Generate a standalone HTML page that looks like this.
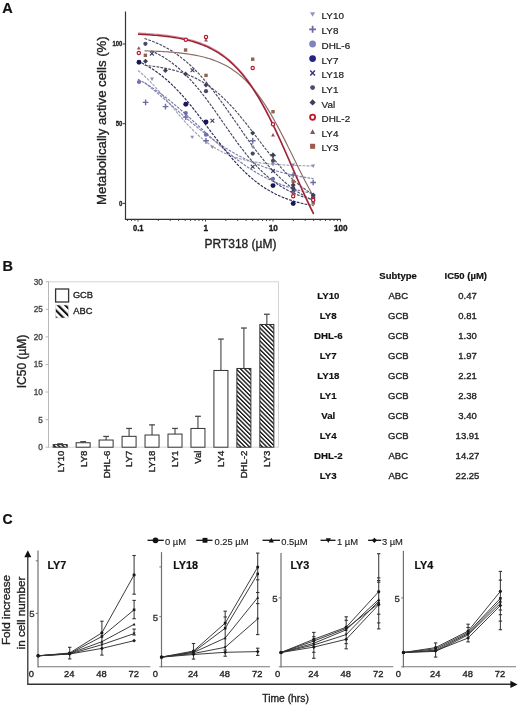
<!DOCTYPE html>
<html><head><meta charset="utf-8"><style>
html,body{margin:0;padding:0;background:#fff;}
svg{display:block;font-family:"Liberation Sans",sans-serif;will-change:transform;}
</style></head><body>
<svg width="520" height="707" viewBox="0 0 520 707">
<rect width="520" height="707" fill="#fff"/>
<text x="2.20" y="12.60" font-size="14.5" text-anchor="start" font-weight="bold" stroke="#111" stroke-width="0.2" fill="#111">A</text>
<line x1="125.50" y1="11.50" x2="125.50" y2="219.80" stroke="#333" stroke-width="1.2"/>
<line x1="124.90" y1="219.30" x2="340.80" y2="219.30" stroke="#333" stroke-width="1.2"/>
<line x1="122.60" y1="44.00" x2="125.50" y2="44.00" stroke="#333" stroke-width="1"/>
<text x="122.40" y="46.40" font-size="7.4" text-anchor="end" font-weight="bold" stroke="#1a1a1a" stroke-width="0.3" fill="#1a1a1a" textLength="9.8" lengthAdjust="spacingAndGlyphs">100</text>
<line x1="122.60" y1="123.70" x2="125.50" y2="123.70" stroke="#333" stroke-width="1"/>
<text x="122.40" y="126.10" font-size="7.4" text-anchor="end" font-weight="bold" stroke="#1a1a1a" stroke-width="0.3" fill="#1a1a1a" textLength="6.6" lengthAdjust="spacingAndGlyphs">50</text>
<line x1="122.60" y1="203.40" x2="125.50" y2="203.40" stroke="#333" stroke-width="1"/>
<text x="122.40" y="205.80" font-size="7.4" text-anchor="end" font-weight="bold" stroke="#1a1a1a" stroke-width="0.3" fill="#1a1a1a" textLength="3.4" lengthAdjust="spacingAndGlyphs">0</text>
<line x1="138.00" y1="219.30" x2="138.00" y2="221.60" stroke="#333" stroke-width="0.9"/>
<line x1="158.32" y1="219.30" x2="158.32" y2="221.00" stroke="#333" stroke-width="0.9"/>
<line x1="170.21" y1="219.30" x2="170.21" y2="221.00" stroke="#333" stroke-width="0.9"/>
<line x1="178.64" y1="219.30" x2="178.64" y2="221.00" stroke="#333" stroke-width="0.9"/>
<line x1="185.18" y1="219.30" x2="185.18" y2="221.00" stroke="#333" stroke-width="0.9"/>
<line x1="190.53" y1="219.30" x2="190.53" y2="221.00" stroke="#333" stroke-width="0.9"/>
<line x1="195.04" y1="219.30" x2="195.04" y2="221.00" stroke="#333" stroke-width="0.9"/>
<line x1="198.96" y1="219.30" x2="198.96" y2="221.00" stroke="#333" stroke-width="0.9"/>
<line x1="202.41" y1="219.30" x2="202.41" y2="221.00" stroke="#333" stroke-width="0.9"/>
<line x1="205.50" y1="219.30" x2="205.50" y2="221.60" stroke="#333" stroke-width="0.9"/>
<line x1="225.82" y1="219.30" x2="225.82" y2="221.00" stroke="#333" stroke-width="0.9"/>
<line x1="237.71" y1="219.30" x2="237.71" y2="221.00" stroke="#333" stroke-width="0.9"/>
<line x1="246.14" y1="219.30" x2="246.14" y2="221.00" stroke="#333" stroke-width="0.9"/>
<line x1="252.68" y1="219.30" x2="252.68" y2="221.00" stroke="#333" stroke-width="0.9"/>
<line x1="258.03" y1="219.30" x2="258.03" y2="221.00" stroke="#333" stroke-width="0.9"/>
<line x1="262.54" y1="219.30" x2="262.54" y2="221.00" stroke="#333" stroke-width="0.9"/>
<line x1="266.46" y1="219.30" x2="266.46" y2="221.00" stroke="#333" stroke-width="0.9"/>
<line x1="269.91" y1="219.30" x2="269.91" y2="221.00" stroke="#333" stroke-width="0.9"/>
<line x1="273.00" y1="219.30" x2="273.00" y2="221.60" stroke="#333" stroke-width="0.9"/>
<line x1="293.32" y1="219.30" x2="293.32" y2="221.00" stroke="#333" stroke-width="0.9"/>
<line x1="305.21" y1="219.30" x2="305.21" y2="221.00" stroke="#333" stroke-width="0.9"/>
<line x1="313.64" y1="219.30" x2="313.64" y2="221.00" stroke="#333" stroke-width="0.9"/>
<line x1="320.18" y1="219.30" x2="320.18" y2="221.00" stroke="#333" stroke-width="0.9"/>
<line x1="325.53" y1="219.30" x2="325.53" y2="221.00" stroke="#333" stroke-width="0.9"/>
<line x1="330.04" y1="219.30" x2="330.04" y2="221.00" stroke="#333" stroke-width="0.9"/>
<line x1="333.96" y1="219.30" x2="333.96" y2="221.00" stroke="#333" stroke-width="0.9"/>
<line x1="337.41" y1="219.30" x2="337.41" y2="221.00" stroke="#333" stroke-width="0.9"/>
<line x1="340.50" y1="219.30" x2="340.50" y2="221.60" stroke="#333" stroke-width="0.9"/>
<line x1="127.54" y1="219.30" x2="127.54" y2="221.00" stroke="#333" stroke-width="0.9"/>
<line x1="131.46" y1="219.30" x2="131.46" y2="221.00" stroke="#333" stroke-width="0.9"/>
<line x1="134.91" y1="219.30" x2="134.91" y2="221.00" stroke="#333" stroke-width="0.9"/>
<text x="138.30" y="231.00" font-size="8.8" text-anchor="middle" font-weight="bold" stroke="#1a1a1a" stroke-width="0.35" fill="#1a1a1a" textLength="10.6" lengthAdjust="spacingAndGlyphs">0.1</text>
<text x="205.80" y="231.00" font-size="8.8" text-anchor="middle" font-weight="bold" stroke="#1a1a1a" stroke-width="0.35" fill="#1a1a1a" textLength="4.6" lengthAdjust="spacingAndGlyphs">1</text>
<text x="273.30" y="231.00" font-size="8.8" text-anchor="middle" font-weight="bold" stroke="#1a1a1a" stroke-width="0.35" fill="#1a1a1a" textLength="9.2" lengthAdjust="spacingAndGlyphs">10</text>
<text x="340.80" y="231.00" font-size="8.8" text-anchor="middle" font-weight="bold" stroke="#1a1a1a" stroke-width="0.35" fill="#1a1a1a" textLength="13.6" lengthAdjust="spacingAndGlyphs">100</text>
<text x="240.50" y="247.50" font-size="12" text-anchor="middle" stroke="#222" stroke-width="0.34" fill="#222">PRT318 (µM)</text>
<text x="106.00" y="120.60" font-size="13.2" text-anchor="middle" stroke="#222" stroke-width="0.34" fill="#222" transform="rotate(-90 106.0 120.6)">Metabolically active cells (%)</text>
<path d="M310.10,12.30L315.10,12.30L312.60,16.80Z" stroke="none" stroke-width="1" fill="#9494b8"/>
<text x="321.60" y="19.40" font-size="9.9" text-anchor="start" stroke="#222" stroke-width="0.22" fill="#222">LY10</text>
<path d="M309.15,29.30H316.05M312.60,25.85V32.75" stroke="#6a6aa4" stroke-width="1.7249999999999999" fill="none"/>
<text x="321.60" y="34.40" font-size="9.9" text-anchor="start" stroke="#222" stroke-width="0.22" fill="#222">LY8</text>
<circle cx="312.60" cy="44.00" r="3.38" fill="#8282bc"/>
<text x="321.60" y="49.10" font-size="9.9" text-anchor="start" stroke="#222" stroke-width="0.22" fill="#222">DHL-6</text>
<circle cx="312.60" cy="58.60" r="3.38" fill="#242488"/>
<text x="321.60" y="63.70" font-size="9.9" text-anchor="start" stroke="#222" stroke-width="0.22" fill="#222">LY7</text>
<path d="M310.20,70.60L315.00,75.40M310.20,75.40L315.00,70.60" stroke="#35356c" stroke-width="1.38" fill="none"/>
<text x="321.60" y="78.10" font-size="9.9" text-anchor="start" stroke="#222" stroke-width="0.22" fill="#222">LY18</text>
<circle cx="312.60" cy="87.60" r="2.42" fill="#4a4a6c"/>
<text x="321.60" y="92.70" font-size="9.9" text-anchor="start" stroke="#222" stroke-width="0.22" fill="#222">LY1</text>
<path d="M312.60,99.28L315.72,102.40L312.60,105.52L309.48,102.40Z" stroke="none" stroke-width="1" fill="#3e3e5c"/>
<text x="321.60" y="107.50" font-size="9.9" text-anchor="start" stroke="#222" stroke-width="0.22" fill="#222">Val</text>
<circle cx="312.60" cy="117.20" r="2.54" fill="#fff" stroke="#c2182e" stroke-width="1.81"/>
<text x="321.60" y="122.30" font-size="9.9" text-anchor="start" stroke="#222" stroke-width="0.22" fill="#222">DHL-2</text>
<path d="M310.00,133.88L315.20,133.88L312.60,129.20Z" stroke="none" stroke-width="1" fill="#8c5060"/>
<text x="321.60" y="136.90" font-size="9.9" text-anchor="start" stroke="#222" stroke-width="0.22" fill="#222">LY4</text>
<rect x="310.08" y="143.78" width="5.04" height="5.04" fill="#a05a4a" stroke="none" stroke-width="1"/>
<text x="321.60" y="151.40" font-size="9.9" text-anchor="start" stroke="#222" stroke-width="0.22" fill="#222">LY3</text>
<g clip-path="url(#clipA)">
<path d="M138.00,70.47 L140.22,72.32 L142.45,74.26 L144.67,76.29 L146.89,78.40 L149.12,80.59 L151.34,82.87 L153.56,85.21 L155.79,87.63 L158.01,90.10 L160.23,92.63 L162.46,95.21 L164.68,97.82 L166.90,100.46 L169.13,103.12 L171.35,105.78 L173.57,108.45 L175.80,111.10 L178.02,113.73 L180.24,116.32 L182.47,118.88 L184.69,121.39 L186.91,123.84 L189.14,126.22 L191.36,128.54 L193.58,130.78 L195.81,132.94 L198.03,135.01 L200.25,137.00 L202.48,138.91 L204.70,140.72 L206.92,142.44 L209.14,144.08 L211.37,145.62 L213.59,147.08 L215.81,148.46 L218.04,149.75 L220.26,150.97 L222.48,152.10 L224.71,153.17 L226.93,154.16 L229.15,155.09 L231.38,155.95 L233.60,156.76 L235.82,157.50 L238.05,158.19 L240.27,158.84 L242.49,159.43 L244.72,159.98 L246.94,160.49 L249.16,160.96 L251.39,161.40 L253.61,161.80 L255.83,162.17 L258.06,162.51 L260.28,162.83 L262.50,163.12 L264.73,163.38 L266.95,163.63 L269.17,163.86 L271.40,164.06 L273.62,164.26 L275.84,164.43 L278.07,164.59 L280.29,164.74 L282.51,164.88 L284.74,165.00 L286.96,165.12 L289.18,165.22 L291.41,165.32 L293.63,165.41 L295.85,165.49 L298.08,165.57 L300.30,165.64 L302.52,165.70 L304.75,165.76 L306.97,165.81 L309.19,165.86 L311.42,165.90 L313.64,165.94" stroke="#a0a0b8" stroke-width="1.15" fill="none" stroke-dasharray="2.8,1.2"/>
<path d="M138.00,79.27 L140.22,80.48 L142.45,81.73 L144.67,83.02 L146.89,84.36 L149.12,85.74 L151.34,87.16 L153.56,88.63 L155.79,90.15 L158.01,91.70 L160.23,93.30 L162.46,94.94 L164.68,96.62 L166.90,98.34 L169.13,100.10 L171.35,101.90 L173.57,103.73 L175.80,105.60 L178.02,107.49 L180.24,109.42 L182.47,111.37 L184.69,113.34 L186.91,115.34 L189.14,117.36 L191.36,119.39 L193.58,121.43 L195.81,123.48 L198.03,125.54 L200.25,127.61 L202.48,129.67 L204.70,131.73 L206.92,133.79 L209.14,135.83 L211.37,137.87 L213.59,139.88 L215.81,141.88 L218.04,143.86 L220.26,145.81 L222.48,147.74 L224.71,149.64 L226.93,151.51 L229.15,153.35 L231.38,155.15 L233.60,156.91 L235.82,158.64 L238.05,160.32 L240.27,161.97 L242.49,163.57 L244.72,165.13 L246.94,166.65 L249.16,168.13 L251.39,169.56 L253.61,170.95 L255.83,172.29 L258.06,173.59 L260.28,174.84 L262.50,176.05 L264.73,177.22 L266.95,178.35 L269.17,179.43 L271.40,180.47 L273.62,181.47 L275.84,182.44 L278.07,183.36 L280.29,184.25 L282.51,185.10 L284.74,185.91 L286.96,186.69 L289.18,187.43 L291.41,188.15 L293.63,188.83 L295.85,189.48 L298.08,190.10 L300.30,190.69 L302.52,191.26 L304.75,191.80 L306.97,192.31 L309.19,192.80 L311.42,193.27 L313.64,193.71" stroke="#7878a8" stroke-width="1.15" fill="none" stroke-dasharray="2.8,1.2"/>
<path d="M144.54,82.52 L146.68,84.23 L148.82,85.96 L150.96,87.71 L153.10,89.49 L155.24,91.28 L157.38,93.08 L159.52,94.91 L161.67,96.74 L163.81,98.59 L165.95,100.44 L168.09,102.31 L170.23,104.17 L172.37,106.04 L174.51,107.92 L176.65,109.79 L178.79,111.65 L180.93,113.51 L183.07,115.37 L185.21,117.21 L187.35,119.04 L189.49,120.86 L191.63,122.66 L193.77,124.45 L195.91,126.21 L198.05,127.96 L200.19,129.68 L202.33,131.38 L204.47,133.06 L206.62,134.70 L208.76,136.32 L210.90,137.92 L213.04,139.48 L215.18,141.01 L217.32,142.51 L219.46,143.97 L221.60,145.41 L223.74,146.81 L225.88,148.18 L228.02,149.51 L230.16,150.81 L232.30,152.08 L234.44,153.31 L236.58,154.51 L238.72,155.67 L240.86,156.80 L243.00,157.89 L245.14,158.95 L247.28,159.98 L249.42,160.98 L251.57,161.94 L253.71,162.88 L255.85,163.78 L257.99,164.65 L260.13,165.49 L262.27,166.30 L264.41,167.08 L266.55,167.84 L268.69,168.56 L270.83,169.26 L272.97,169.94 L275.11,170.59 L277.25,171.21 L279.39,171.81 L281.53,172.39 L283.67,172.94 L285.81,173.48 L287.95,173.99 L290.09,174.48 L292.23,174.95 L294.37,175.40 L296.52,175.84 L298.66,176.25 L300.80,176.65 L302.94,177.04 L305.08,177.40 L307.22,177.75 L309.36,178.09 L311.50,178.41 L313.64,178.72" stroke="#8484b0" stroke-width="1.15" fill="none" stroke-dasharray="2.8,1.2"/>
<path d="M138.00,61.20 L140.22,62.23 L142.45,63.33 L144.67,64.49 L146.89,65.71 L149.12,67.00 L151.34,68.37 L153.56,69.81 L155.79,71.32 L158.01,72.91 L160.23,74.57 L162.46,76.32 L164.68,78.15 L166.90,80.05 L169.13,82.04 L171.35,84.11 L173.57,86.27 L175.80,88.50 L178.02,90.81 L180.24,93.20 L182.47,95.66 L184.69,98.19 L186.91,100.79 L189.14,103.45 L191.36,106.17 L193.58,108.95 L195.81,111.77 L198.03,114.63 L200.25,117.53 L202.48,120.45 L204.70,123.39 L206.92,126.35 L209.14,129.31 L211.37,132.27 L213.59,135.22 L215.81,138.15 L218.04,141.06 L220.26,143.94 L222.48,146.78 L224.71,149.57 L226.93,152.31 L229.15,155.00 L231.38,157.62 L233.60,160.18 L235.82,162.67 L238.05,165.09 L240.27,167.43 L242.49,169.69 L244.72,171.88 L246.94,173.98 L249.16,176.00 L251.39,177.94 L253.61,179.80 L255.83,181.58 L258.06,183.28 L260.28,184.90 L262.50,186.44 L264.73,187.90 L266.95,189.30 L269.17,190.62 L271.40,191.87 L273.62,193.05 L275.84,194.17 L278.07,195.23 L280.29,196.23 L282.51,197.17 L284.74,198.06 L286.96,198.90 L289.18,199.68 L291.41,200.42 L293.63,201.11 L295.85,201.77 L298.08,202.38 L300.30,202.95 L302.52,203.49 L304.75,203.99 L306.97,204.46 L309.19,204.91 L311.42,205.32 L313.64,205.71" stroke="#2a2a54" stroke-width="1.15" fill="none" stroke-dasharray="2.8,1.2"/>
<path d="M144.54,65.29 L146.68,65.51 L148.82,65.75 L150.96,66.01 L153.10,66.28 L155.24,66.58 L157.38,66.89 L159.52,67.23 L161.67,67.60 L163.81,67.99 L165.95,68.41 L168.09,68.86 L170.23,69.34 L172.37,69.85 L174.51,70.40 L176.65,70.99 L178.79,71.62 L180.93,72.29 L183.07,73.00 L185.21,73.76 L187.35,74.57 L189.49,75.44 L191.63,76.36 L193.77,77.33 L195.91,78.37 L198.05,79.47 L200.19,80.63 L202.33,81.87 L204.47,83.17 L206.62,84.54 L208.76,85.99 L210.90,87.51 L213.04,89.12 L215.18,90.80 L217.32,92.56 L219.46,94.40 L221.60,96.32 L223.74,98.32 L225.88,100.41 L228.02,102.57 L230.16,104.80 L232.30,107.11 L234.44,109.49 L236.58,111.94 L238.72,114.46 L240.86,117.03 L243.00,119.65 L245.14,122.32 L247.28,125.03 L249.42,127.78 L251.57,130.55 L253.71,133.35 L255.85,136.15 L257.99,138.96 L260.13,141.77 L262.27,144.56 L264.41,147.34 L266.55,150.09 L268.69,152.81 L270.83,155.48 L272.97,158.11 L275.11,160.69 L277.25,163.21 L279.39,165.66 L281.53,168.05 L283.67,170.37 L285.81,172.62 L287.95,174.79 L290.09,176.88 L292.23,178.89 L294.37,180.82 L296.52,182.67 L298.66,184.44 L300.80,186.13 L302.94,187.75 L305.08,189.28 L307.22,190.74 L309.36,192.12 L311.50,193.43 L313.64,194.67" stroke="#505064" stroke-width="1.15" fill="none" stroke-dasharray="2.8,1.2"/>
<path d="M151.04,50.76 L153.09,51.67 L155.15,52.64 L157.21,53.67 L159.27,54.75 L161.33,55.90 L163.39,57.11 L165.44,58.38 L167.50,59.72 L169.56,61.14 L171.62,62.62 L173.68,64.18 L175.74,65.81 L177.79,67.52 L179.85,69.30 L181.91,71.17 L183.97,73.11 L186.03,75.13 L188.08,77.23 L190.14,79.41 L192.20,81.67 L194.26,84.00 L196.32,86.40 L198.38,88.88 L200.43,91.42 L202.49,94.03 L204.55,96.69 L206.61,99.42 L208.67,102.19 L210.73,105.01 L212.78,107.87 L214.84,110.76 L216.90,113.68 L218.96,116.62 L221.02,119.57 L223.08,122.53 L225.13,125.48 L227.19,128.43 L229.25,131.37 L231.31,134.28 L233.37,137.16 L235.42,140.01 L237.48,142.82 L239.54,145.58 L241.60,148.29 L243.66,150.94 L245.72,153.54 L247.77,156.06 L249.83,158.52 L251.89,160.91 L253.95,163.22 L256.01,165.45 L258.07,167.61 L260.12,169.69 L262.18,171.70 L264.24,173.62 L266.30,175.46 L268.36,177.23 L270.42,178.92 L272.47,180.53 L274.53,182.07 L276.59,183.54 L278.65,184.93 L280.71,186.25 L282.77,187.51 L284.82,188.70 L286.88,189.83 L288.94,190.90 L291.00,191.92 L293.06,192.87 L295.11,193.77 L297.17,194.63 L299.23,195.43 L301.29,196.18 L303.35,196.90 L305.41,197.57 L307.46,198.20 L309.52,198.79 L311.58,199.35 L313.64,199.87" stroke="#464662" stroke-width="1.15" fill="none" stroke-dasharray="2.8,1.2"/>
<path d="M144.54,38.54 L146.68,39.23 L148.82,39.96 L150.96,40.74 L153.10,41.56 L155.24,42.43 L157.38,43.35 L159.52,44.32 L161.67,45.35 L163.81,46.43 L165.95,47.57 L168.09,48.77 L170.23,50.03 L172.37,51.36 L174.51,52.75 L176.65,54.22 L178.79,55.75 L180.93,57.35 L183.07,59.03 L185.21,60.79 L187.35,62.62 L189.49,64.53 L191.63,66.51 L193.77,68.58 L195.91,70.72 L198.05,72.94 L200.19,75.23 L202.33,77.61 L204.47,80.05 L206.62,82.57 L208.76,85.16 L210.90,87.82 L213.04,90.54 L215.18,93.32 L217.32,96.15 L219.46,99.04 L221.60,101.98 L223.74,104.95 L225.88,107.96 L228.02,111.00 L230.16,114.07 L232.30,117.15 L234.44,120.24 L236.58,123.33 L238.72,126.42 L240.86,129.51 L243.00,132.57 L245.14,135.62 L247.28,138.63 L249.42,141.61 L251.57,144.55 L253.71,147.45 L255.85,150.29 L257.99,153.08 L260.13,155.81 L262.27,158.47 L264.41,161.07 L266.55,163.60 L268.69,166.06 L270.83,168.44 L272.97,170.75 L275.11,172.98 L277.25,175.13 L279.39,177.20 L281.53,179.20 L283.67,181.12 L285.81,182.96 L287.95,184.72 L290.09,186.41 L292.23,188.03 L294.37,189.57 L296.52,191.05 L298.66,192.45 L300.80,193.78 L302.94,195.06 L305.08,196.26 L307.22,197.41 L309.36,198.50 L311.50,199.53 L313.64,200.51" stroke="#4a4a62" stroke-width="1.15" fill="none" stroke-dasharray="2.8,1.2"/>
<path d="M138.00,33.11 L140.22,33.22 L142.45,33.34 L144.67,33.46 L146.89,33.60 L149.12,33.74 L151.34,33.90 L153.56,34.07 L155.79,34.25 L158.01,34.45 L160.23,34.66 L162.46,34.89 L164.68,35.14 L166.90,35.40 L169.13,35.69 L171.35,35.99 L173.57,36.33 L175.80,36.68 L178.02,37.06 L180.24,37.48 L182.47,37.92 L184.69,38.40 L186.91,38.91 L189.14,39.46 L191.36,40.05 L193.58,40.69 L195.81,41.37 L198.03,42.11 L200.25,42.89 L202.48,43.73 L204.70,44.64 L206.92,45.61 L209.14,46.64 L211.37,47.75 L213.59,48.94 L215.81,50.20 L218.04,51.56 L220.26,53.00 L222.48,54.54 L224.71,56.18 L226.93,57.92 L229.15,59.78 L231.38,61.75 L233.60,63.84 L235.82,66.05 L238.05,68.40 L240.27,70.87 L242.49,73.49 L244.72,76.24 L246.94,79.14 L249.16,82.18 L251.39,85.37 L253.61,88.71 L255.83,92.19 L258.06,95.83 L260.28,99.61 L262.50,103.54 L264.73,107.60 L266.95,111.80 L269.17,116.14 L271.40,120.59 L273.62,125.16 L275.84,129.83 L278.07,134.60 L280.29,139.46 L282.51,144.38 L284.74,149.36 L286.96,154.39 L289.18,159.45 L291.41,164.52 L293.63,169.60 L295.85,174.66 L298.08,179.69 L300.30,184.68 L302.52,189.62 L304.75,194.49 L306.97,199.27 L309.19,203.97 L311.42,208.55 L313.64,213.03" stroke="#d88894" stroke-width="1.2" fill="none"/>
<path d="M144.54,50.85 L146.68,50.91 L148.82,50.98 L150.96,51.06 L153.10,51.14 L155.24,51.23 L157.38,51.32 L159.52,51.43 L161.67,51.54 L163.81,51.67 L165.95,51.80 L168.09,51.94 L170.23,52.10 L172.37,52.27 L174.51,52.45 L176.65,52.65 L178.79,52.86 L180.93,53.09 L183.07,53.34 L185.21,53.61 L187.35,53.91 L189.49,54.22 L191.63,54.56 L193.77,54.93 L195.91,55.33 L198.05,55.76 L200.19,56.23 L202.33,56.73 L204.47,57.27 L206.62,57.86 L208.76,58.49 L210.90,59.16 L213.04,59.89 L215.18,60.68 L217.32,61.52 L219.46,62.43 L221.60,63.41 L223.74,64.46 L225.88,65.58 L228.02,66.78 L230.16,68.07 L232.30,69.45 L234.44,70.93 L236.58,72.50 L238.72,74.17 L240.86,75.96 L243.00,77.86 L245.14,79.87 L247.28,82.01 L249.42,84.27 L251.57,86.66 L253.71,89.18 L255.85,91.84 L257.99,94.63 L260.13,97.55 L262.27,100.61 L264.41,103.80 L266.55,107.13 L268.69,110.59 L270.83,114.17 L272.97,117.87 L275.11,121.68 L277.25,125.60 L279.39,129.61 L281.53,133.71 L283.67,137.88 L285.81,142.12 L287.95,146.41 L290.09,150.74 L292.23,155.09 L294.37,159.45 L296.52,163.80 L298.66,168.14 L300.80,172.44 L302.94,176.70 L305.08,180.89 L307.22,185.02 L309.36,189.06 L311.50,193.01 L313.64,196.86" stroke="#8e6c68" stroke-width="1.15" fill="none"/>
<path d="M138.00,34.21 L140.22,34.32 L142.45,34.44 L144.67,34.56 L146.89,34.70 L149.12,34.84 L151.34,35.00 L153.56,35.17 L155.79,35.35 L158.01,35.55 L160.23,35.76 L162.46,35.99 L164.68,36.24 L166.90,36.50 L169.13,36.79 L171.35,37.09 L173.57,37.43 L175.80,37.78 L178.02,38.16 L180.24,38.58 L182.47,39.02 L184.69,39.50 L186.91,40.01 L189.14,40.56 L191.36,41.15 L193.58,41.79 L195.81,42.47 L198.03,43.21 L200.25,43.99 L202.48,44.83 L204.70,45.74 L206.92,46.71 L209.14,47.74 L211.37,48.85 L213.59,50.04 L215.81,51.30 L218.04,52.66 L220.26,54.10 L222.48,55.64 L224.71,57.28 L226.93,59.02 L229.15,60.88 L231.38,62.85 L233.60,64.94 L235.82,67.15 L238.05,69.50 L240.27,71.97 L242.49,74.59 L244.72,77.34 L246.94,80.24 L249.16,83.28 L251.39,86.47 L253.61,89.81 L255.83,93.29 L258.06,96.93 L260.28,100.71 L262.50,104.64 L264.73,108.70 L266.95,112.90 L269.17,117.24 L271.40,121.69 L273.62,126.26 L275.84,130.93 L278.07,135.70 L280.29,140.56 L282.51,145.48 L284.74,150.46 L286.96,155.49 L289.18,160.55 L291.41,165.62 L293.63,170.70 L295.85,175.76 L298.08,180.79 L300.30,185.78 L302.52,190.72 L304.75,195.59 L306.97,200.37 L309.19,205.07 L311.42,209.65 L313.64,214.13" stroke="#9a2234" stroke-width="1.45" fill="none"/>
<path d="M142.75,102.40H148.45M145.60,99.55V105.25" stroke="#6c6ca4" stroke-width="1.4249999999999998" fill="none"/>
<path d="M162.65,106.60H168.35M165.50,103.75V109.45" stroke="#6c6ca4" stroke-width="1.4249999999999998" fill="none"/>
<path d="M182.95,117.10H188.65M185.80,114.25V119.95" stroke="#6c6ca4" stroke-width="1.4249999999999998" fill="none"/>
<path d="M203.15,140.80H208.85M206.00,137.95V143.65" stroke="#6c6ca4" stroke-width="1.4249999999999998" fill="none"/>
<path d="M249.85,140.80H255.55M252.70,137.95V143.65" stroke="#6c6ca4" stroke-width="1.4249999999999998" fill="none"/>
<path d="M270.15,155.50H275.85M273.00,152.65V158.35" stroke="#6c6ca4" stroke-width="1.4249999999999998" fill="none"/>
<path d="M290.35,175.00H296.05M293.20,172.15V177.85" stroke="#6c6ca4" stroke-width="1.4249999999999998" fill="none"/>
<path d="M310.35,182.50H316.05M313.20,179.65V185.35" stroke="#6c6ca4" stroke-width="1.4249999999999998" fill="none"/>
<path d="M150.10,77.58L153.90,77.58L152.00,81.00Z" stroke="none" stroke-width="1" fill="#8c8cb4"/>
<path d="M190.30,135.68L194.10,135.68L192.20,139.10Z" stroke="none" stroke-width="1" fill="#8c8cb4"/>
<path d="M210.40,145.68L214.20,145.68L212.30,149.10Z" stroke="none" stroke-width="1" fill="#8c8cb4"/>
<path d="M250.80,145.38L254.60,145.38L252.70,148.80Z" stroke="none" stroke-width="1" fill="#8c8cb4"/>
<path d="M271.10,162.98L274.90,162.98L273.00,166.40Z" stroke="none" stroke-width="1" fill="#8c8cb4"/>
<path d="M291.30,163.48L295.10,163.48L293.20,166.90Z" stroke="none" stroke-width="1" fill="#8c8cb4"/>
<path d="M311.30,164.48L315.10,164.48L313.20,167.90Z" stroke="none" stroke-width="1" fill="#8c8cb4"/>
<circle cx="139.00" cy="82.00" r="2.09" fill="#6e6eac"/>
<circle cx="185.80" cy="113.10" r="2.09" fill="#6e6eac"/>
<circle cx="206.00" cy="134.70" r="2.09" fill="#6e6eac"/>
<circle cx="273.00" cy="178.80" r="2.09" fill="#6e6eac"/>
<circle cx="293.20" cy="192.00" r="2.09" fill="#6e6eac"/>
<circle cx="313.20" cy="196.00" r="2.09" fill="#6e6eac"/>
<circle cx="145.40" cy="43.80" r="2.09" fill="#4a4a60"/>
<circle cx="206.00" cy="91.20" r="2.09" fill="#4a4a60"/>
<circle cx="252.70" cy="153.60" r="2.09" fill="#4a4a60"/>
<circle cx="273.00" cy="160.80" r="2.09" fill="#4a4a60"/>
<circle cx="293.20" cy="188.00" r="2.09" fill="#4a4a60"/>
<circle cx="313.20" cy="198.00" r="2.09" fill="#4a4a60"/>
<path d="M145.50,58.83L147.97,61.30L145.50,63.77L143.03,61.30Z" stroke="none" stroke-width="1" fill="#3e3e52"/>
<path d="M165.40,68.03L167.87,70.50L165.40,72.97L162.93,70.50Z" stroke="none" stroke-width="1" fill="#3e3e52"/>
<path d="M185.60,71.53L188.07,74.00L185.60,76.47L183.13,74.00Z" stroke="none" stroke-width="1" fill="#3e3e52"/>
<path d="M206.00,82.53L208.47,85.00L206.00,87.47L203.53,85.00Z" stroke="none" stroke-width="1" fill="#3e3e52"/>
<path d="M252.70,130.63L255.17,133.10L252.70,135.57L250.23,133.10Z" stroke="none" stroke-width="1" fill="#3e3e52"/>
<path d="M273.00,152.53L275.47,155.00L273.00,157.47L270.53,155.00Z" stroke="none" stroke-width="1" fill="#3e3e52"/>
<path d="M293.20,182.53L295.67,185.00L293.20,187.47L290.73,185.00Z" stroke="none" stroke-width="1" fill="#3e3e52"/>
<path d="M313.20,192.53L315.67,195.00L313.20,197.47L310.73,195.00Z" stroke="none" stroke-width="1" fill="#3e3e52"/>
<path d="M150.00,51.70L153.80,55.50M150.00,55.50L153.80,51.70" stroke="#3c3c62" stroke-width="1.0924999999999998" fill="none"/>
<path d="M190.60,68.30L194.40,72.10M190.60,72.10L194.40,68.30" stroke="#3c3c62" stroke-width="1.0924999999999998" fill="none"/>
<path d="M210.50,118.80L214.30,122.60M210.50,122.60L214.30,118.80" stroke="#3c3c62" stroke-width="1.0924999999999998" fill="none"/>
<path d="M250.80,164.80L254.60,168.60M250.80,168.60L254.60,164.80" stroke="#3c3c62" stroke-width="1.0924999999999998" fill="none"/>
<path d="M271.10,169.10L274.90,172.90M271.10,172.90L274.90,169.10" stroke="#3c3c62" stroke-width="1.0924999999999998" fill="none"/>
<path d="M291.30,188.10L295.10,191.90M291.30,191.90L295.10,188.10" stroke="#3c3c62" stroke-width="1.0924999999999998" fill="none"/>
<path d="M311.30,197.10L315.10,200.90M311.30,200.90L315.10,197.10" stroke="#3c3c62" stroke-width="1.0924999999999998" fill="none"/>
<circle cx="139.00" cy="62.30" r="2.47" fill="#181858"/>
<circle cx="185.80" cy="104.20" r="2.47" fill="#181858"/>
<circle cx="206.00" cy="122.00" r="2.47" fill="#181858"/>
<circle cx="273.00" cy="185.60" r="2.47" fill="#181858"/>
<circle cx="293.20" cy="203.50" r="2.47" fill="#181858"/>
<rect x="143.69" y="53.59" width="3.42" height="3.42" fill="#8e6452" stroke="none" stroke-width="1"/>
<rect x="183.89" y="48.29" width="3.42" height="3.42" fill="#8e6452" stroke="none" stroke-width="1"/>
<rect x="204.29" y="73.69" width="3.42" height="3.42" fill="#8e6452" stroke="none" stroke-width="1"/>
<rect x="250.99" y="57.49" width="3.42" height="3.42" fill="#8e6452" stroke="none" stroke-width="1"/>
<rect x="271.29" y="109.99" width="3.42" height="3.42" fill="#8e6452" stroke="none" stroke-width="1"/>
<rect x="291.49" y="179.69" width="3.42" height="3.42" fill="#8e6452" stroke="none" stroke-width="1"/>
<rect x="311.49" y="201.29" width="3.42" height="3.42" fill="#8e6452" stroke="none" stroke-width="1"/>
<path d="M136.90,49.62L140.70,49.62L138.80,46.20Z" stroke="none" stroke-width="1" fill="#905060"/>
<path d="M204.10,41.52L207.90,41.52L206.00,38.10Z" stroke="none" stroke-width="1" fill="#905060"/>
<path d="M271.10,136.52L274.90,136.52L273.00,133.10Z" stroke="none" stroke-width="1" fill="#905060"/>
<path d="M291.30,194.52L295.10,194.52L293.20,191.10Z" stroke="none" stroke-width="1" fill="#905060"/>
<path d="M311.30,199.52L315.10,199.52L313.20,196.10Z" stroke="none" stroke-width="1" fill="#905060"/>
<circle cx="138.80" cy="53.00" r="1.66" fill="#fff" stroke="#b81a30" stroke-width="1.19"/>
<circle cx="185.80" cy="39.70" r="1.66" fill="#fff" stroke="#b81a30" stroke-width="1.19"/>
<circle cx="206.00" cy="37.00" r="1.66" fill="#fff" stroke="#b81a30" stroke-width="1.19"/>
<circle cx="252.70" cy="68.00" r="1.66" fill="#fff" stroke="#b81a30" stroke-width="1.19"/>
<circle cx="273.00" cy="124.30" r="1.66" fill="#fff" stroke="#b81a30" stroke-width="1.19"/>
<circle cx="293.20" cy="196.30" r="1.66" fill="#fff" stroke="#b81a30" stroke-width="1.19"/>
<circle cx="313.20" cy="200.00" r="1.66" fill="#fff" stroke="#b81a30" stroke-width="1.19"/>
</g>
<text x="2.60" y="271.00" font-size="14.5" text-anchor="start" font-weight="bold" stroke="#111" stroke-width="0.2" fill="#111">B</text>
<rect x="48.50" y="281.80" width="230.00" height="165.40" fill="none" stroke="#d4d4d4" stroke-width="1"/>
<line x1="48.50" y1="281.50" x2="48.50" y2="447.60" stroke="#b8b8b8" stroke-width="1"/>
<line x1="45.60" y1="447.20" x2="48.50" y2="447.20" stroke="#b8b8b8" stroke-width="1"/>
<text x="42.80" y="450.10" font-size="8.2" text-anchor="end" stroke="#444" stroke-width="0.34" fill="#444">0</text>
<line x1="45.60" y1="419.62" x2="48.50" y2="419.62" stroke="#b8b8b8" stroke-width="1"/>
<text x="42.80" y="422.51" font-size="8.2" text-anchor="end" stroke="#444" stroke-width="0.34" fill="#444">5</text>
<line x1="45.60" y1="392.03" x2="48.50" y2="392.03" stroke="#b8b8b8" stroke-width="1"/>
<text x="42.80" y="394.93" font-size="8.2" text-anchor="end" stroke="#444" stroke-width="0.34" fill="#444">10</text>
<line x1="45.60" y1="364.44" x2="48.50" y2="364.44" stroke="#b8b8b8" stroke-width="1"/>
<text x="42.80" y="367.34" font-size="8.2" text-anchor="end" stroke="#444" stroke-width="0.34" fill="#444">15</text>
<line x1="45.60" y1="336.86" x2="48.50" y2="336.86" stroke="#b8b8b8" stroke-width="1"/>
<text x="42.80" y="339.76" font-size="8.2" text-anchor="end" stroke="#444" stroke-width="0.34" fill="#444">20</text>
<line x1="45.60" y1="309.27" x2="48.50" y2="309.27" stroke="#b8b8b8" stroke-width="1"/>
<text x="42.80" y="312.17" font-size="8.2" text-anchor="end" stroke="#444" stroke-width="0.34" fill="#444">25</text>
<line x1="45.60" y1="281.69" x2="48.50" y2="281.69" stroke="#b8b8b8" stroke-width="1"/>
<text x="42.80" y="284.59" font-size="8.2" text-anchor="end" stroke="#444" stroke-width="0.34" fill="#444">30</text>
<text x="25.80" y="361.50" font-size="12" text-anchor="middle" stroke="#222" stroke-width="0.34" fill="#222" transform="rotate(-90 25.8 361.5)">IC50 (µM)</text>
<defs><pattern id="hatch" patternUnits="userSpaceOnUse" width="3.05" height="3.05" patternTransform="rotate(-45)"><rect width="3.05" height="3.05" fill="#fff"/><rect x="0" y="0" width="1.35" height="3.05" fill="#111"/></pattern><pattern id="hatch2" patternUnits="userSpaceOnUse" width="5.1" height="5.1" patternTransform="rotate(-45 55.6 305)"><rect width="5.1" height="5.1" fill="#fff"/><rect x="0" y="0" width="2.1" height="5.1" fill="#111"/></pattern><clipPath id="clipA"><rect x="126" y="10" width="215" height="209"/></clipPath></defs>
<line x1="60.20" y1="444.61" x2="60.20" y2="443.78" stroke="#4a4a4a" stroke-width="1.15"/>
<line x1="57.30" y1="443.78" x2="63.10" y2="443.78" stroke="#4a4a4a" stroke-width="1.3"/>
<rect x="53.20" y="444.61" width="14.00" height="2.59" fill="url(#hatch)" stroke="#333" stroke-width="1.0"/>
<text x="63.60" y="450.60" font-size="9.6" text-anchor="end" stroke="#222" stroke-width="0.34" fill="#222" transform="rotate(-90 63.6 450.6)">LY10</text>
<line x1="83.16" y1="442.73" x2="83.16" y2="441.68" stroke="#4a4a4a" stroke-width="1.15"/>
<line x1="80.26" y1="441.68" x2="86.06" y2="441.68" stroke="#4a4a4a" stroke-width="1.3"/>
<rect x="76.16" y="442.73" width="14.00" height="4.47" fill="#fff" stroke="#333" stroke-width="1.0"/>
<text x="86.56" y="450.60" font-size="9.6" text-anchor="end" stroke="#222" stroke-width="0.34" fill="#222" transform="rotate(-90 86.56 450.6)">LY8</text>
<line x1="106.12" y1="440.03" x2="106.12" y2="436.44" stroke="#4a4a4a" stroke-width="1.15"/>
<line x1="103.22" y1="436.44" x2="109.02" y2="436.44" stroke="#4a4a4a" stroke-width="1.3"/>
<rect x="99.12" y="440.03" width="14.00" height="7.17" fill="#fff" stroke="#333" stroke-width="1.0"/>
<text x="109.52" y="450.60" font-size="9.6" text-anchor="end" stroke="#222" stroke-width="0.34" fill="#222" transform="rotate(-90 109.52000000000001 450.6)">DHL-6</text>
<line x1="129.08" y1="436.33" x2="129.08" y2="428.44" stroke="#4a4a4a" stroke-width="1.15"/>
<line x1="126.18" y1="428.44" x2="131.98" y2="428.44" stroke="#4a4a4a" stroke-width="1.3"/>
<rect x="122.08" y="436.33" width="14.00" height="10.87" fill="#fff" stroke="#333" stroke-width="1.0"/>
<text x="132.48" y="450.60" font-size="9.6" text-anchor="end" stroke="#222" stroke-width="0.34" fill="#222" transform="rotate(-90 132.48 450.6)">LY7</text>
<line x1="152.04" y1="435.01" x2="152.04" y2="424.86" stroke="#4a4a4a" stroke-width="1.15"/>
<line x1="149.14" y1="424.86" x2="154.94" y2="424.86" stroke="#4a4a4a" stroke-width="1.3"/>
<rect x="145.04" y="435.01" width="14.00" height="12.19" fill="#fff" stroke="#333" stroke-width="1.0"/>
<text x="155.44" y="450.60" font-size="9.6" text-anchor="end" stroke="#222" stroke-width="0.34" fill="#222" transform="rotate(-90 155.44000000000003 450.6)">LY18</text>
<line x1="175.00" y1="434.07" x2="175.00" y2="428.44" stroke="#4a4a4a" stroke-width="1.15"/>
<line x1="172.10" y1="428.44" x2="177.90" y2="428.44" stroke="#4a4a4a" stroke-width="1.3"/>
<rect x="168.00" y="434.07" width="14.00" height="13.13" fill="#fff" stroke="#333" stroke-width="1.0"/>
<text x="178.40" y="450.60" font-size="9.6" text-anchor="end" stroke="#222" stroke-width="0.34" fill="#222" transform="rotate(-90 178.4 450.6)">LY1</text>
<line x1="197.96" y1="428.44" x2="197.96" y2="416.30" stroke="#4a4a4a" stroke-width="1.15"/>
<line x1="195.06" y1="416.30" x2="200.86" y2="416.30" stroke="#4a4a4a" stroke-width="1.3"/>
<rect x="190.96" y="428.44" width="14.00" height="18.76" fill="#fff" stroke="#333" stroke-width="1.0"/>
<text x="201.36" y="450.60" font-size="9.6" text-anchor="end" stroke="#222" stroke-width="0.34" fill="#222" transform="rotate(-90 201.35999999999999 450.6)">Val</text>
<line x1="220.92" y1="370.46" x2="220.92" y2="339.07" stroke="#4a4a4a" stroke-width="1.15"/>
<line x1="218.02" y1="339.07" x2="223.82" y2="339.07" stroke="#4a4a4a" stroke-width="1.3"/>
<rect x="213.92" y="370.46" width="14.00" height="76.74" fill="#fff" stroke="#333" stroke-width="1.0"/>
<text x="224.32" y="450.60" font-size="9.6" text-anchor="end" stroke="#222" stroke-width="0.34" fill="#222" transform="rotate(-90 224.32000000000002 450.6)">LY4</text>
<line x1="243.88" y1="368.47" x2="243.88" y2="328.03" stroke="#4a4a4a" stroke-width="1.15"/>
<line x1="240.98" y1="328.03" x2="246.78" y2="328.03" stroke="#4a4a4a" stroke-width="1.3"/>
<rect x="236.88" y="368.47" width="14.00" height="78.73" fill="url(#hatch)" stroke="#333" stroke-width="1.0"/>
<text x="247.28" y="450.60" font-size="9.6" text-anchor="end" stroke="#222" stroke-width="0.34" fill="#222" transform="rotate(-90 247.28 450.6)">DHL-2</text>
<line x1="266.84" y1="324.45" x2="266.84" y2="314.24" stroke="#4a4a4a" stroke-width="1.15"/>
<line x1="263.94" y1="314.24" x2="269.74" y2="314.24" stroke="#4a4a4a" stroke-width="1.3"/>
<rect x="259.84" y="324.45" width="14.00" height="122.75" fill="url(#hatch)" stroke="#333" stroke-width="1.0"/>
<text x="270.24" y="450.60" font-size="9.6" text-anchor="end" stroke="#222" stroke-width="0.34" fill="#222" transform="rotate(-90 270.24 450.6)">LY3</text>
<rect x="55.60" y="289.00" width="13.00" height="13.00" fill="#fff" stroke="#333" stroke-width="1.3"/>
<rect x="55.60" y="305.00" width="13.00" height="13.00" fill="url(#hatch2)" stroke="#d8d8d8" stroke-width="0.6"/>
<text x="72.90" y="298.30" font-size="9.3" text-anchor="start" stroke="#222" stroke-width="0.34" fill="#222">GCB</text>
<text x="73.30" y="313.80" font-size="9.3" text-anchor="start" stroke="#222" stroke-width="0.34" fill="#222">ABC</text>
<text x="398.10" y="279.30" font-size="9.5" text-anchor="middle" font-weight="bold" stroke="#111" stroke-width="0.2" fill="#111">Subtype</text>
<text x="465.80" y="279.30" font-size="9.5" text-anchor="middle" font-weight="bold" stroke="#111" stroke-width="0.2" fill="#111">IC50 (µM)</text>
<text x="328.30" y="299.40" font-size="9.7" text-anchor="middle" font-weight="bold" stroke="#111" stroke-width="0.2" fill="#111">LY10</text>
<text x="398.30" y="299.40" font-size="9.5" text-anchor="middle" stroke="#222" stroke-width="0.34" fill="#222">ABC</text>
<text x="467.50" y="299.40" font-size="9.5" text-anchor="middle" stroke="#222" stroke-width="0.34" fill="#222">0.47</text>
<text x="328.30" y="319.40" font-size="9.7" text-anchor="middle" font-weight="bold" stroke="#111" stroke-width="0.2" fill="#111">LY8</text>
<text x="398.30" y="319.40" font-size="9.5" text-anchor="middle" stroke="#222" stroke-width="0.34" fill="#222">GCB</text>
<text x="467.50" y="319.40" font-size="9.5" text-anchor="middle" stroke="#222" stroke-width="0.34" fill="#222">0.81</text>
<text x="328.30" y="339.40" font-size="9.7" text-anchor="middle" font-weight="bold" stroke="#111" stroke-width="0.2" fill="#111">DHL-6</text>
<text x="398.30" y="339.40" font-size="9.5" text-anchor="middle" stroke="#222" stroke-width="0.34" fill="#222">GCB</text>
<text x="467.50" y="339.40" font-size="9.5" text-anchor="middle" stroke="#222" stroke-width="0.34" fill="#222">1.30</text>
<text x="328.30" y="359.40" font-size="9.7" text-anchor="middle" font-weight="bold" stroke="#111" stroke-width="0.2" fill="#111">LY7</text>
<text x="398.30" y="359.40" font-size="9.5" text-anchor="middle" stroke="#222" stroke-width="0.34" fill="#222">GCB</text>
<text x="467.50" y="359.40" font-size="9.5" text-anchor="middle" stroke="#222" stroke-width="0.34" fill="#222">1.97</text>
<text x="328.30" y="379.40" font-size="9.7" text-anchor="middle" font-weight="bold" stroke="#111" stroke-width="0.2" fill="#111">LY18</text>
<text x="398.30" y="379.40" font-size="9.5" text-anchor="middle" stroke="#222" stroke-width="0.34" fill="#222">GCB</text>
<text x="467.50" y="379.40" font-size="9.5" text-anchor="middle" stroke="#222" stroke-width="0.34" fill="#222">2.21</text>
<text x="328.30" y="399.40" font-size="9.7" text-anchor="middle" font-weight="bold" stroke="#111" stroke-width="0.2" fill="#111">LY1</text>
<text x="398.30" y="399.40" font-size="9.5" text-anchor="middle" stroke="#222" stroke-width="0.34" fill="#222">GCB</text>
<text x="467.50" y="399.40" font-size="9.5" text-anchor="middle" stroke="#222" stroke-width="0.34" fill="#222">2.38</text>
<text x="328.30" y="419.40" font-size="9.7" text-anchor="middle" font-weight="bold" stroke="#111" stroke-width="0.2" fill="#111">Val</text>
<text x="398.30" y="419.40" font-size="9.5" text-anchor="middle" stroke="#222" stroke-width="0.34" fill="#222">GCB</text>
<text x="467.50" y="419.40" font-size="9.5" text-anchor="middle" stroke="#222" stroke-width="0.34" fill="#222">3.40</text>
<text x="328.30" y="439.40" font-size="9.7" text-anchor="middle" font-weight="bold" stroke="#111" stroke-width="0.2" fill="#111">LY4</text>
<text x="398.30" y="439.40" font-size="9.5" text-anchor="middle" stroke="#222" stroke-width="0.34" fill="#222">GCB</text>
<text x="467.50" y="439.40" font-size="9.5" text-anchor="middle" stroke="#222" stroke-width="0.34" fill="#222">13.91</text>
<text x="328.30" y="459.40" font-size="9.7" text-anchor="middle" font-weight="bold" stroke="#111" stroke-width="0.2" fill="#111">DHL-2</text>
<text x="398.30" y="459.40" font-size="9.5" text-anchor="middle" stroke="#222" stroke-width="0.34" fill="#222">ABC</text>
<text x="467.50" y="459.40" font-size="9.5" text-anchor="middle" stroke="#222" stroke-width="0.34" fill="#222">14.27</text>
<text x="328.30" y="479.40" font-size="9.7" text-anchor="middle" font-weight="bold" stroke="#111" stroke-width="0.2" fill="#111">LY3</text>
<text x="398.30" y="479.40" font-size="9.5" text-anchor="middle" stroke="#222" stroke-width="0.34" fill="#222">ABC</text>
<text x="467.50" y="479.40" font-size="9.5" text-anchor="middle" stroke="#222" stroke-width="0.34" fill="#222">22.25</text>
<text x="2.40" y="524.30" font-size="14" text-anchor="start" font-weight="bold" stroke="#111" stroke-width="0.2" fill="#111">C</text>
<line x1="147.50" y1="540.30" x2="163.80" y2="540.30" stroke="#111" stroke-width="1.3"/>
<circle cx="155.50" cy="540.30" r="2.86" fill="#111"/>
<text x="165.00" y="544.60" font-size="9.4" text-anchor="start" stroke="#222" stroke-width="0.15" fill="#222">0 µM</text>
<line x1="196.30" y1="540.30" x2="212.50" y2="540.30" stroke="#111" stroke-width="1.3"/>
<rect x="202.57" y="537.87" width="4.86" height="4.86" fill="#111" stroke="none" stroke-width="1"/>
<text x="214.50" y="544.60" font-size="9.4" text-anchor="start" stroke="#222" stroke-width="0.15" fill="#222">0.25 µM</text>
<line x1="262.50" y1="540.30" x2="280.00" y2="540.30" stroke="#111" stroke-width="1.3"/>
<path d="M268.70,542.38L273.90,542.38L271.30,537.70Z" stroke="none" stroke-width="1" fill="#111"/>
<text x="281.30" y="544.60" font-size="9.4" text-anchor="start" stroke="#222" stroke-width="0.15" fill="#222">0.5µM</text>
<line x1="320.50" y1="540.30" x2="335.50" y2="540.30" stroke="#111" stroke-width="1.3"/>
<path d="M325.70,538.22L330.90,538.22L328.30,542.90Z" stroke="none" stroke-width="1" fill="#111"/>
<text x="337.00" y="544.60" font-size="9.4" text-anchor="start" stroke="#222" stroke-width="0.15" fill="#222">1 µM</text>
<line x1="368.10" y1="540.30" x2="381.30" y2="540.30" stroke="#111" stroke-width="1.3"/>
<path d="M374.40,537.70L377.00,540.30L374.40,542.90L371.80,540.30Z" stroke="none" stroke-width="1" fill="#111"/>
<text x="381.90" y="544.60" font-size="9.4" text-anchor="start" stroke="#222" stroke-width="0.15" fill="#222">3 µM</text>
<line x1="27.80" y1="557.00" x2="27.80" y2="684.20" stroke="#222" stroke-width="1.2"/>
<path d="M24.3,557.3L31.3,557.3L27.8,550.2Z" stroke="none" stroke-width="1" fill="#111"/>
<line x1="27.20" y1="684.20" x2="511.00" y2="684.20" stroke="#333" stroke-width="1.5"/>
<path d="M510.4,680.8L510.4,688.0L517.6,684.4Z" stroke="none" stroke-width="1" fill="#111"/>
<text x="285.60" y="701.80" font-size="10.3" text-anchor="middle" stroke="#222" stroke-width="0.34" fill="#222">Time (hrs)</text>
<text x="10.20" y="610.00" font-size="11.7" text-anchor="middle" stroke="#222" stroke-width="0.34" fill="#222" transform="rotate(-90 10.2 610.0)">Fold increase</text>
<text x="25.40" y="613.00" font-size="11.7" text-anchor="middle" stroke="#222" stroke-width="0.34" fill="#222" transform="rotate(-90 25.4 613.0)">in cell number</text>
<line x1="38.00" y1="550.40" x2="38.00" y2="667.40" stroke="#707070" stroke-width="1.2"/>
<line x1="38.00" y1="666.80" x2="150.40" y2="666.80" stroke="#777" stroke-width="1.1"/>
<line x1="35.80" y1="613.40" x2="38.00" y2="613.40" stroke="#666" stroke-width="0.9"/>
<line x1="35.80" y1="560.80" x2="38.00" y2="560.80" stroke="#666" stroke-width="0.9"/>
<text x="34.50" y="617.40" font-size="9.6" text-anchor="end" stroke="#333" stroke-width="0.34" fill="#333">5</text>
<text x="47.50" y="568.80" font-size="10.8" text-anchor="start" font-weight="bold" stroke="#111" stroke-width="0.2" fill="#111">LY7</text>
<text x="31.40" y="677.40" font-size="9.4" text-anchor="middle" stroke="#222" stroke-width="0.34" fill="#222">0</text>
<text x="69.30" y="677.40" font-size="9.4" text-anchor="middle" stroke="#222" stroke-width="0.34" fill="#222">24</text>
<text x="101.50" y="677.40" font-size="9.4" text-anchor="middle" stroke="#222" stroke-width="0.34" fill="#222">48</text>
<text x="133.70" y="677.40" font-size="9.4" text-anchor="middle" stroke="#222" stroke-width="0.34" fill="#222">72</text>
<line x1="69.70" y1="647.30" x2="69.70" y2="658.90" stroke="#444" stroke-width="1.1"/>
<line x1="68.00" y1="647.30" x2="71.40" y2="647.30" stroke="#333" stroke-width="1.1"/>
<line x1="68.00" y1="658.90" x2="71.40" y2="658.90" stroke="#333" stroke-width="1.1"/>
<line x1="101.90" y1="621.20" x2="101.90" y2="655.10" stroke="#444" stroke-width="1.1"/>
<line x1="100.20" y1="621.20" x2="103.60" y2="621.20" stroke="#333" stroke-width="1.1"/>
<line x1="100.20" y1="655.10" x2="103.60" y2="655.10" stroke="#333" stroke-width="1.1"/>
<line x1="134.10" y1="555.50" x2="134.10" y2="594.20" stroke="#444" stroke-width="1.1"/>
<line x1="132.40" y1="555.50" x2="135.80" y2="555.50" stroke="#333" stroke-width="1.1"/>
<line x1="132.40" y1="594.20" x2="135.80" y2="594.20" stroke="#333" stroke-width="1.1"/>
<line x1="134.10" y1="600.40" x2="134.10" y2="618.70" stroke="#444" stroke-width="1.1"/>
<line x1="132.40" y1="600.40" x2="135.80" y2="600.40" stroke="#333" stroke-width="1.1"/>
<line x1="132.40" y1="618.70" x2="135.80" y2="618.70" stroke="#333" stroke-width="1.1"/>
<line x1="134.10" y1="629.10" x2="134.10" y2="635.00" stroke="#444" stroke-width="1.1"/>
<line x1="132.40" y1="629.10" x2="135.80" y2="629.10" stroke="#333" stroke-width="1.1"/>
<line x1="132.40" y1="635.00" x2="135.80" y2="635.00" stroke="#333" stroke-width="1.1"/>
<path d="M38.10,655.80 L69.70,653.00 L101.90,632.80 L134.10,574.90" stroke="#333" stroke-width="0.95" fill="none"/>
<circle cx="38.10" cy="655.80" r="1.58" fill="#1a1a1a"/>
<circle cx="69.70" cy="653.00" r="1.58" fill="#1a1a1a"/>
<circle cx="101.90" cy="632.80" r="1.58" fill="#1a1a1a"/>
<circle cx="134.10" cy="574.90" r="1.58" fill="#1a1a1a"/>
<path d="M38.10,655.80 L69.70,653.50 L101.90,636.50 L134.10,609.80" stroke="#333" stroke-width="0.95" fill="none"/>
<rect x="36.80" y="654.50" width="2.59" height="2.59" fill="#1a1a1a" stroke="none" stroke-width="1"/>
<rect x="68.40" y="652.20" width="2.59" height="2.59" fill="#1a1a1a" stroke="none" stroke-width="1"/>
<rect x="100.60" y="635.20" width="2.59" height="2.59" fill="#1a1a1a" stroke="none" stroke-width="1"/>
<rect x="132.80" y="608.50" width="2.59" height="2.59" fill="#1a1a1a" stroke="none" stroke-width="1"/>
<path d="M38.10,655.80 L69.70,653.50 L101.90,641.70 L134.10,624.30" stroke="#333" stroke-width="0.95" fill="none"/>
<path d="M36.66,656.95L39.54,656.95L38.10,654.36Z" stroke="none" stroke-width="1" fill="#1a1a1a"/>
<path d="M68.26,654.65L71.14,654.65L69.70,652.06Z" stroke="none" stroke-width="1" fill="#1a1a1a"/>
<path d="M100.46,642.85L103.34,642.85L101.90,640.26Z" stroke="none" stroke-width="1" fill="#1a1a1a"/>
<path d="M132.66,625.45L135.54,625.45L134.10,622.86Z" stroke="none" stroke-width="1" fill="#1a1a1a"/>
<path d="M38.10,655.80 L69.70,654.00 L101.90,644.70 L134.10,633.60" stroke="#333" stroke-width="0.95" fill="none"/>
<path d="M36.66,654.65L39.54,654.65L38.10,657.24Z" stroke="none" stroke-width="1" fill="#1a1a1a"/>
<path d="M68.26,652.85L71.14,652.85L69.70,655.44Z" stroke="none" stroke-width="1" fill="#1a1a1a"/>
<path d="M100.46,643.55L103.34,643.55L101.90,646.14Z" stroke="none" stroke-width="1" fill="#1a1a1a"/>
<path d="M132.66,632.45L135.54,632.45L134.10,635.04Z" stroke="none" stroke-width="1" fill="#1a1a1a"/>
<path d="M38.10,655.80 L69.70,654.00 L101.90,648.40 L134.10,640.70" stroke="#333" stroke-width="0.95" fill="none"/>
<path d="M38.10,653.93L39.97,655.80L38.10,657.67L36.23,655.80Z" stroke="none" stroke-width="1" fill="#1a1a1a"/>
<path d="M69.70,652.13L71.57,654.00L69.70,655.87L67.83,654.00Z" stroke="none" stroke-width="1" fill="#1a1a1a"/>
<path d="M101.90,646.53L103.77,648.40L101.90,650.27L100.03,648.40Z" stroke="none" stroke-width="1" fill="#1a1a1a"/>
<path d="M134.10,638.83L135.97,640.70L134.10,642.57L132.23,640.70Z" stroke="none" stroke-width="1" fill="#1a1a1a"/>
<line x1="161.50" y1="552.10" x2="161.50" y2="667.40" stroke="#707070" stroke-width="1.2"/>
<line x1="159.30" y1="666.80" x2="270.00" y2="666.80" stroke="#777" stroke-width="1.1"/>
<line x1="159.30" y1="616.70" x2="161.50" y2="616.70" stroke="#666" stroke-width="0.9"/>
<line x1="159.30" y1="566.90" x2="161.50" y2="566.90" stroke="#666" stroke-width="0.9"/>
<text x="158.00" y="620.70" font-size="9.6" text-anchor="end" stroke="#333" stroke-width="0.34" fill="#333">5</text>
<text x="173.20" y="568.80" font-size="10.8" text-anchor="start" font-weight="bold" stroke="#111" stroke-width="0.2" fill="#111">LY18</text>
<text x="155.30" y="677.40" font-size="9.4" text-anchor="middle" stroke="#222" stroke-width="0.34" fill="#222">0</text>
<text x="193.10" y="677.40" font-size="9.4" text-anchor="middle" stroke="#222" stroke-width="0.34" fill="#222">24</text>
<text x="224.80" y="677.40" font-size="9.4" text-anchor="middle" stroke="#222" stroke-width="0.34" fill="#222">48</text>
<text x="257.30" y="677.40" font-size="9.4" text-anchor="middle" stroke="#222" stroke-width="0.34" fill="#222">72</text>
<line x1="193.50" y1="643.50" x2="193.50" y2="659.10" stroke="#444" stroke-width="1.1"/>
<line x1="191.80" y1="643.50" x2="195.20" y2="643.50" stroke="#333" stroke-width="1.1"/>
<line x1="191.80" y1="659.10" x2="195.20" y2="659.10" stroke="#333" stroke-width="1.1"/>
<line x1="225.20" y1="611.20" x2="225.20" y2="656.20" stroke="#444" stroke-width="1.1"/>
<line x1="223.50" y1="611.20" x2="226.90" y2="611.20" stroke="#333" stroke-width="1.1"/>
<line x1="223.50" y1="656.20" x2="226.90" y2="656.20" stroke="#333" stroke-width="1.1"/>
<line x1="223.50" y1="617.00" x2="226.90" y2="617.00" stroke="#333" stroke-width="1.1"/>
<line x1="223.50" y1="650.00" x2="226.90" y2="650.00" stroke="#333" stroke-width="1.1"/>
<line x1="257.70" y1="553.10" x2="257.70" y2="634.60" stroke="#444" stroke-width="1.1"/>
<line x1="256.00" y1="553.10" x2="259.40" y2="553.10" stroke="#333" stroke-width="1.1"/>
<line x1="256.00" y1="634.60" x2="259.40" y2="634.60" stroke="#333" stroke-width="1.1"/>
<line x1="256.00" y1="579.80" x2="259.40" y2="579.80" stroke="#333" stroke-width="1.1"/>
<line x1="256.00" y1="592.50" x2="259.40" y2="592.50" stroke="#333" stroke-width="1.1"/>
<line x1="256.00" y1="603.60" x2="259.40" y2="603.60" stroke="#333" stroke-width="1.1"/>
<line x1="257.70" y1="648.20" x2="257.70" y2="655.40" stroke="#444" stroke-width="1.1"/>
<line x1="256.00" y1="648.20" x2="259.40" y2="648.20" stroke="#333" stroke-width="1.1"/>
<line x1="256.00" y1="655.40" x2="259.40" y2="655.40" stroke="#333" stroke-width="1.1"/>
<path d="M161.50,657.10 L193.50,651.00 L225.20,623.10 L257.70,567.10" stroke="#333" stroke-width="0.95" fill="none"/>
<circle cx="161.50" cy="657.10" r="1.58" fill="#1a1a1a"/>
<circle cx="193.50" cy="651.00" r="1.58" fill="#1a1a1a"/>
<circle cx="225.20" cy="623.10" r="1.58" fill="#1a1a1a"/>
<circle cx="257.70" cy="567.10" r="1.58" fill="#1a1a1a"/>
<path d="M161.50,657.10 L193.50,652.00 L225.20,628.20 L257.70,573.90" stroke="#333" stroke-width="0.95" fill="none"/>
<rect x="160.20" y="655.80" width="2.59" height="2.59" fill="#1a1a1a" stroke="none" stroke-width="1"/>
<rect x="192.20" y="650.70" width="2.59" height="2.59" fill="#1a1a1a" stroke="none" stroke-width="1"/>
<rect x="223.90" y="626.90" width="2.59" height="2.59" fill="#1a1a1a" stroke="none" stroke-width="1"/>
<rect x="256.40" y="572.60" width="2.59" height="2.59" fill="#1a1a1a" stroke="none" stroke-width="1"/>
<path d="M161.50,657.10 L193.50,652.50 L225.20,638.00 L257.70,597.60" stroke="#333" stroke-width="0.95" fill="none"/>
<path d="M160.06,658.25L162.94,658.25L161.50,655.66Z" stroke="none" stroke-width="1" fill="#1a1a1a"/>
<path d="M192.06,653.65L194.94,653.65L193.50,651.06Z" stroke="none" stroke-width="1" fill="#1a1a1a"/>
<path d="M223.76,639.15L226.64,639.15L225.20,636.56Z" stroke="none" stroke-width="1" fill="#1a1a1a"/>
<path d="M256.26,598.75L259.14,598.75L257.70,596.16Z" stroke="none" stroke-width="1" fill="#1a1a1a"/>
<path d="M161.50,657.10 L193.50,653.50 L225.20,647.30 L257.70,618.90" stroke="#333" stroke-width="0.95" fill="none"/>
<path d="M160.06,655.95L162.94,655.95L161.50,658.54Z" stroke="none" stroke-width="1" fill="#1a1a1a"/>
<path d="M192.06,652.35L194.94,652.35L193.50,654.94Z" stroke="none" stroke-width="1" fill="#1a1a1a"/>
<path d="M223.76,646.15L226.64,646.15L225.20,648.74Z" stroke="none" stroke-width="1" fill="#1a1a1a"/>
<path d="M256.26,617.75L259.14,617.75L257.70,620.34Z" stroke="none" stroke-width="1" fill="#1a1a1a"/>
<path d="M161.50,657.10 L193.50,654.50 L225.20,652.30 L257.70,651.60" stroke="#333" stroke-width="0.95" fill="none"/>
<path d="M161.50,655.23L163.37,657.10L161.50,658.97L159.63,657.10Z" stroke="none" stroke-width="1" fill="#1a1a1a"/>
<path d="M193.50,652.63L195.37,654.50L193.50,656.37L191.63,654.50Z" stroke="none" stroke-width="1" fill="#1a1a1a"/>
<path d="M225.20,650.43L227.07,652.30L225.20,654.17L223.33,652.30Z" stroke="none" stroke-width="1" fill="#1a1a1a"/>
<path d="M257.70,649.73L259.57,651.60L257.70,653.47L255.83,651.60Z" stroke="none" stroke-width="1" fill="#1a1a1a"/>
<line x1="281.00" y1="552.90" x2="281.00" y2="667.40" stroke="#707070" stroke-width="1.2"/>
<line x1="278.80" y1="666.80" x2="393.30" y2="666.80" stroke="#777" stroke-width="1.1"/>
<line x1="278.80" y1="597.90" x2="281.00" y2="597.90" stroke="#666" stroke-width="0.9"/>
<text x="277.50" y="601.90" font-size="9.6" text-anchor="end" stroke="#333" stroke-width="0.34" fill="#333">5</text>
<text x="290.50" y="568.80" font-size="10.8" text-anchor="start" font-weight="bold" stroke="#111" stroke-width="0.2" fill="#111">LY3</text>
<text x="277.50" y="677.40" font-size="9.4" text-anchor="middle" stroke="#222" stroke-width="0.34" fill="#222">0</text>
<text x="313.40" y="677.40" font-size="9.4" text-anchor="middle" stroke="#222" stroke-width="0.34" fill="#222">24</text>
<text x="345.80" y="677.40" font-size="9.4" text-anchor="middle" stroke="#222" stroke-width="0.34" fill="#222">48</text>
<text x="378.30" y="677.40" font-size="9.4" text-anchor="middle" stroke="#222" stroke-width="0.34" fill="#222">72</text>
<line x1="313.80" y1="632.40" x2="313.80" y2="658.30" stroke="#444" stroke-width="1.1"/>
<line x1="312.10" y1="632.40" x2="315.50" y2="632.40" stroke="#333" stroke-width="1.1"/>
<line x1="312.10" y1="658.30" x2="315.50" y2="658.30" stroke="#333" stroke-width="1.1"/>
<line x1="312.10" y1="636.70" x2="315.50" y2="636.70" stroke="#333" stroke-width="1.1"/>
<line x1="312.10" y1="652.30" x2="315.50" y2="652.30" stroke="#333" stroke-width="1.1"/>
<line x1="346.20" y1="616.80" x2="346.20" y2="648.80" stroke="#444" stroke-width="1.1"/>
<line x1="344.50" y1="616.80" x2="347.90" y2="616.80" stroke="#333" stroke-width="1.1"/>
<line x1="344.50" y1="648.80" x2="347.90" y2="648.80" stroke="#333" stroke-width="1.1"/>
<line x1="344.50" y1="620.30" x2="347.90" y2="620.30" stroke="#333" stroke-width="1.1"/>
<line x1="344.50" y1="643.60" x2="347.90" y2="643.60" stroke="#333" stroke-width="1.1"/>
<line x1="378.70" y1="553.70" x2="378.70" y2="628.90" stroke="#444" stroke-width="1.1"/>
<line x1="377.00" y1="553.70" x2="380.40" y2="553.70" stroke="#333" stroke-width="1.1"/>
<line x1="377.00" y1="628.90" x2="380.40" y2="628.90" stroke="#333" stroke-width="1.1"/>
<line x1="377.00" y1="577.90" x2="380.40" y2="577.90" stroke="#333" stroke-width="1.1"/>
<line x1="377.00" y1="580.50" x2="380.40" y2="580.50" stroke="#333" stroke-width="1.1"/>
<line x1="377.00" y1="582.20" x2="380.40" y2="582.20" stroke="#333" stroke-width="1.1"/>
<line x1="377.00" y1="614.20" x2="380.40" y2="614.20" stroke="#333" stroke-width="1.1"/>
<line x1="377.00" y1="622.90" x2="380.40" y2="622.90" stroke="#333" stroke-width="1.1"/>
<path d="M281.00,652.50 L313.80,639.30 L346.20,627.20 L378.70,591.70" stroke="#333" stroke-width="0.95" fill="none"/>
<circle cx="281.00" cy="652.50" r="1.58" fill="#1a1a1a"/>
<circle cx="313.80" cy="639.30" r="1.58" fill="#1a1a1a"/>
<circle cx="346.20" cy="627.20" r="1.58" fill="#1a1a1a"/>
<circle cx="378.70" cy="591.70" r="1.58" fill="#1a1a1a"/>
<path d="M281.00,652.50 L313.80,641.00 L346.20,628.40 L378.70,603.50" stroke="#333" stroke-width="0.95" fill="none"/>
<rect x="279.70" y="651.20" width="2.59" height="2.59" fill="#1a1a1a" stroke="none" stroke-width="1"/>
<rect x="312.50" y="639.70" width="2.59" height="2.59" fill="#1a1a1a" stroke="none" stroke-width="1"/>
<rect x="344.90" y="627.10" width="2.59" height="2.59" fill="#1a1a1a" stroke="none" stroke-width="1"/>
<rect x="377.40" y="602.20" width="2.59" height="2.59" fill="#1a1a1a" stroke="none" stroke-width="1"/>
<path d="M281.00,652.50 L313.80,643.30 L346.20,629.80 L378.70,599.50" stroke="#333" stroke-width="0.95" fill="none"/>
<path d="M279.56,653.65L282.44,653.65L281.00,651.06Z" stroke="none" stroke-width="1" fill="#1a1a1a"/>
<path d="M312.36,644.45L315.24,644.45L313.80,641.86Z" stroke="none" stroke-width="1" fill="#1a1a1a"/>
<path d="M344.76,630.95L347.64,630.95L346.20,628.36Z" stroke="none" stroke-width="1" fill="#1a1a1a"/>
<path d="M377.26,600.65L380.14,600.65L378.70,598.06Z" stroke="none" stroke-width="1" fill="#1a1a1a"/>
<path d="M281.00,652.50 L313.80,645.00 L346.20,634.60 L378.70,601.20" stroke="#333" stroke-width="0.95" fill="none"/>
<path d="M279.56,651.35L282.44,651.35L281.00,653.94Z" stroke="none" stroke-width="1" fill="#1a1a1a"/>
<path d="M312.36,643.85L315.24,643.85L313.80,646.44Z" stroke="none" stroke-width="1" fill="#1a1a1a"/>
<path d="M344.76,633.45L347.64,633.45L346.20,636.04Z" stroke="none" stroke-width="1" fill="#1a1a1a"/>
<path d="M377.26,600.05L380.14,600.05L378.70,602.64Z" stroke="none" stroke-width="1" fill="#1a1a1a"/>
<path d="M281.00,652.50 L313.80,647.10 L346.20,639.30 L378.70,604.70" stroke="#333" stroke-width="0.95" fill="none"/>
<path d="M281.00,650.63L282.87,652.50L281.00,654.37L279.13,652.50Z" stroke="none" stroke-width="1" fill="#1a1a1a"/>
<path d="M313.80,645.23L315.67,647.10L313.80,648.97L311.93,647.10Z" stroke="none" stroke-width="1" fill="#1a1a1a"/>
<path d="M346.20,637.43L348.07,639.30L346.20,641.17L344.33,639.30Z" stroke="none" stroke-width="1" fill="#1a1a1a"/>
<path d="M378.70,602.83L380.57,604.70L378.70,606.57L376.83,604.70Z" stroke="none" stroke-width="1" fill="#1a1a1a"/>
<line x1="403.40" y1="550.80" x2="403.40" y2="667.40" stroke="#707070" stroke-width="1.2"/>
<line x1="401.20" y1="666.80" x2="516.00" y2="666.80" stroke="#777" stroke-width="1.1"/>
<line x1="401.20" y1="597.90" x2="403.40" y2="597.90" stroke="#666" stroke-width="0.9"/>
<text x="399.90" y="601.90" font-size="9.6" text-anchor="end" stroke="#333" stroke-width="0.34" fill="#333">5</text>
<text x="414.50" y="568.80" font-size="10.8" text-anchor="start" font-weight="bold" stroke="#111" stroke-width="0.2" fill="#111">LY4</text>
<text x="398.30" y="677.40" font-size="9.4" text-anchor="middle" stroke="#222" stroke-width="0.34" fill="#222">0</text>
<text x="435.20" y="677.40" font-size="9.4" text-anchor="middle" stroke="#222" stroke-width="0.34" fill="#222">24</text>
<text x="467.70" y="677.40" font-size="9.4" text-anchor="middle" stroke="#222" stroke-width="0.34" fill="#222">48</text>
<text x="500.00" y="677.40" font-size="9.4" text-anchor="middle" stroke="#222" stroke-width="0.34" fill="#222">72</text>
<line x1="435.60" y1="642.90" x2="435.60" y2="657.10" stroke="#444" stroke-width="1.1"/>
<line x1="433.90" y1="642.90" x2="437.30" y2="642.90" stroke="#333" stroke-width="1.1"/>
<line x1="433.90" y1="657.10" x2="437.30" y2="657.10" stroke="#333" stroke-width="1.1"/>
<line x1="468.10" y1="624.20" x2="468.10" y2="641.90" stroke="#444" stroke-width="1.1"/>
<line x1="466.40" y1="624.20" x2="469.80" y2="624.20" stroke="#333" stroke-width="1.1"/>
<line x1="466.40" y1="641.90" x2="469.80" y2="641.90" stroke="#333" stroke-width="1.1"/>
<line x1="466.40" y1="627.50" x2="469.80" y2="627.50" stroke="#333" stroke-width="1.1"/>
<line x1="500.40" y1="571.40" x2="500.40" y2="629.70" stroke="#444" stroke-width="1.1"/>
<line x1="498.70" y1="571.40" x2="502.10" y2="571.40" stroke="#333" stroke-width="1.1"/>
<line x1="498.70" y1="629.70" x2="502.10" y2="629.70" stroke="#333" stroke-width="1.1"/>
<line x1="498.70" y1="580.10" x2="502.10" y2="580.10" stroke="#333" stroke-width="1.1"/>
<line x1="498.70" y1="610.00" x2="502.10" y2="610.00" stroke="#333" stroke-width="1.1"/>
<line x1="498.70" y1="614.70" x2="502.10" y2="614.70" stroke="#333" stroke-width="1.1"/>
<line x1="498.70" y1="621.10" x2="502.10" y2="621.10" stroke="#333" stroke-width="1.1"/>
<path d="M403.50,652.50 L435.60,647.60 L468.10,631.10 L500.40,591.30" stroke="#333" stroke-width="0.95" fill="none"/>
<circle cx="403.50" cy="652.50" r="1.58" fill="#1a1a1a"/>
<circle cx="435.60" cy="647.60" r="1.58" fill="#1a1a1a"/>
<circle cx="468.10" cy="631.10" r="1.58" fill="#1a1a1a"/>
<circle cx="500.40" cy="591.30" r="1.58" fill="#1a1a1a"/>
<path d="M403.50,652.50 L435.60,648.80 L468.10,632.50 L500.40,598.30" stroke="#333" stroke-width="0.95" fill="none"/>
<rect x="402.20" y="651.20" width="2.59" height="2.59" fill="#1a1a1a" stroke="none" stroke-width="1"/>
<rect x="434.30" y="647.50" width="2.59" height="2.59" fill="#1a1a1a" stroke="none" stroke-width="1"/>
<rect x="466.80" y="631.20" width="2.59" height="2.59" fill="#1a1a1a" stroke="none" stroke-width="1"/>
<rect x="499.10" y="597.00" width="2.59" height="2.59" fill="#1a1a1a" stroke="none" stroke-width="1"/>
<path d="M403.50,652.50 L435.60,650.20 L468.10,633.70 L500.40,600.80" stroke="#333" stroke-width="0.95" fill="none"/>
<path d="M402.06,653.65L404.94,653.65L403.50,651.06Z" stroke="none" stroke-width="1" fill="#1a1a1a"/>
<path d="M434.16,651.35L437.04,651.35L435.60,648.76Z" stroke="none" stroke-width="1" fill="#1a1a1a"/>
<path d="M466.66,634.85L469.54,634.85L468.10,632.26Z" stroke="none" stroke-width="1" fill="#1a1a1a"/>
<path d="M498.96,601.95L501.84,601.95L500.40,599.36Z" stroke="none" stroke-width="1" fill="#1a1a1a"/>
<path d="M403.50,652.50 L435.60,651.40 L468.10,634.90 L500.40,603.40" stroke="#333" stroke-width="0.95" fill="none"/>
<path d="M402.06,651.35L404.94,651.35L403.50,653.94Z" stroke="none" stroke-width="1" fill="#1a1a1a"/>
<path d="M434.16,650.25L437.04,650.25L435.60,652.84Z" stroke="none" stroke-width="1" fill="#1a1a1a"/>
<path d="M466.66,633.75L469.54,633.75L468.10,636.34Z" stroke="none" stroke-width="1" fill="#1a1a1a"/>
<path d="M498.96,602.25L501.84,602.25L500.40,604.84Z" stroke="none" stroke-width="1" fill="#1a1a1a"/>
<path d="M403.50,652.50 L435.60,650.80 L468.10,638.00 L500.40,605.50" stroke="#333" stroke-width="0.95" fill="none"/>
<path d="M403.50,650.63L405.37,652.50L403.50,654.37L401.63,652.50Z" stroke="none" stroke-width="1" fill="#1a1a1a"/>
<path d="M435.60,648.93L437.47,650.80L435.60,652.67L433.73,650.80Z" stroke="none" stroke-width="1" fill="#1a1a1a"/>
<path d="M468.10,636.13L469.97,638.00L468.10,639.87L466.23,638.00Z" stroke="none" stroke-width="1" fill="#1a1a1a"/>
<path d="M500.40,603.63L502.27,605.50L500.40,607.37L498.53,605.50Z" stroke="none" stroke-width="1" fill="#1a1a1a"/>
</svg>
</body></html>
